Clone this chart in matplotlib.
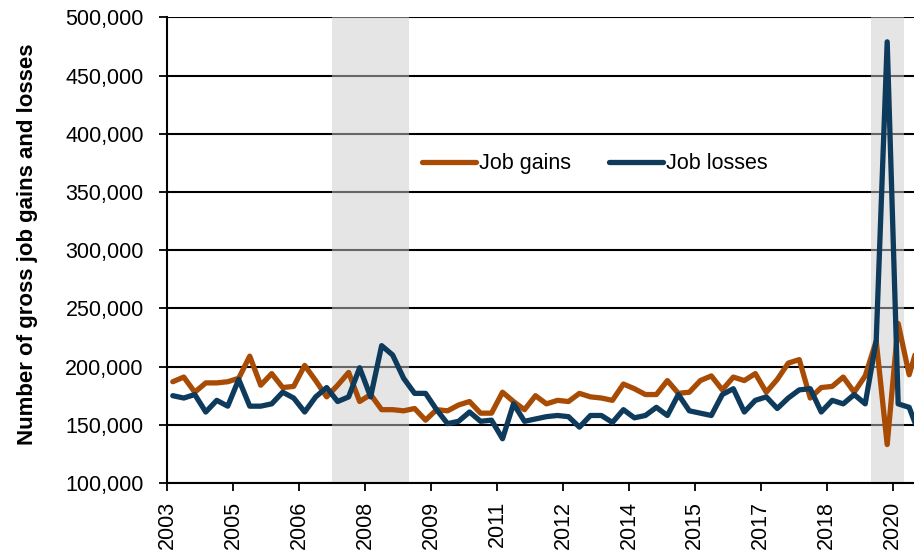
import matplotlib
matplotlib.use('Agg')
import matplotlib.pyplot as plt
from matplotlib.ticker import FuncFormatter

plt.rcParams['font.family'] = ['Liberation Sans', 'DejaVu Sans']

# quarterly values, thousands
job_gains = [187, 191, 178, 186, 186, 187, 190, 209, 184, 194, 182, 183, 201, 188, 174, 184,
             195, 170, 176, 163, 163, 162, 164, 154, 163, 162, 167, 170, 160, 160, 178, 170,
             163, 175, 168, 171, 170, 177, 174, 173, 171, 185, 181, 176, 176, 188, 177, 178,
             188, 192, 180, 191, 188, 194, 178, 189, 203, 206, 173, 182, 183, 191, 178, 192,
             222, 133, 237, 193, 225]
job_losses = [175, 173, 176, 161, 171, 166, 189, 166, 166, 168, 178, 173, 161, 174, 182, 170,
              174, 199, 174, 218, 210, 190, 177, 177, 163, 151, 153, 161, 153, 154, 138, 168,
              153, 155, 157, 158, 157, 148, 158, 158, 152, 163, 156, 158, 165, 158, 176, 162,
              160, 158, 176, 181, 161, 171, 174, 164, 173, 180, 181, 161, 171, 168, 176, 168,
              222, 479, 168, 165, 140]
year_labels = ['2003', '2005', '2006', '2008', '2009', '2011', '2012', '2014', '2015',
               '2017', '2018', '2020']
recessions = [(15, 21), (64, 66)]  # first and last quarter index

gains = [v * 1000 for v in job_gains]
losses = [v * 1000 for v in job_losses]
x = list(range(len(gains)))

fig = plt.figure(figsize=(9.14, 5.5), dpi=100)
ax = fig.add_axes([167.3 / 914, 67 / 550, (914 - 167.3) / 914, 465.6 / 550])

for a, b in recessions:
    ax.axvspan(a - 0.5, b + 0.5, color=(0.8, 0.8, 0.8), alpha=0.5, lw=0, zorder=2)

ax.plot(x, gains, color='#A84C05', lw=3.8, label='Job gains', zorder=3,
        solid_joinstyle='round', solid_capstyle='round')
ax.plot(x, losses, color='#0E3A5C', lw=3.8, label='Job losses', zorder=4,
        solid_joinstyle='round', solid_capstyle='round')

ax.set_ylim(100000, 500000)
ax.set_yticks(range(100000, 500001, 50000))
ax.yaxis.set_major_formatter(FuncFormatter(lambda v, p: '{:,.0f}'.format(v)))
ax.grid(axis='y', color='black', lw=1.5, zorder=1)
ax.set_axisbelow(True)

ax.set_xlim(-0.5, 67.44)
ax.set_xticks([-0.5 + 6 * k for k in range(len(year_labels))])
ax.set_xticklabels(year_labels, rotation=90)

ax.tick_params(axis='y', length=6, width=1.3, pad=11, labelsize=15.5)
ax.tick_params(axis='x', length=6, width=1.3, pad=7, labelsize=15.5)
for s in ['top', 'right']:
    ax.spines[s].set_visible(False)
for s in ['left', 'bottom']:
    ax.spines[s].set_linewidth(1.5)

fig.text(28 / 914, 1 - 244 / 550, 'Number of gross job gains and losses', rotation=90,
         ha='center', va='center', fontsize=16, fontweight='bold')

fig.legend(loc='center', bbox_to_anchor=(595 / 914, 1 - 164 / 550), ncol=2, frameon=False,
           fontsize=15.5, handlelength=2.5, handletextpad=0.15, columnspacing=1.75)

fig.savefig('out.png', dpi=100)
